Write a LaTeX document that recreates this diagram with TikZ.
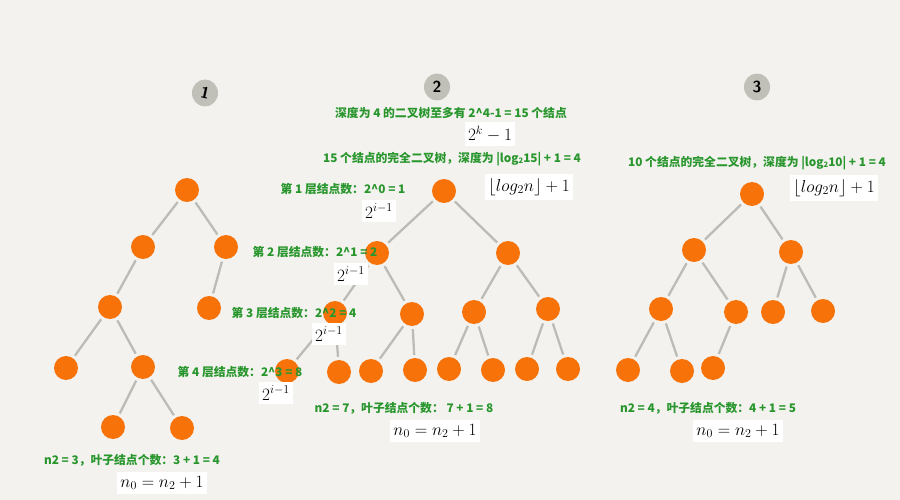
\documentclass[tikz,border=0pt]{standalone}
\usepackage{fontspec}
\usetikzlibrary{shapes.geometric}
\newfontfamily\cjk{Noto Sans CJK SC}
\definecolor{bg}{RGB}{243,242,238}
\definecolor{orng}{RGB}{247,115,10}
\definecolor{edgegray}{RGB}{188,188,182}
\definecolor{grn}{RGB}{40,150,45}
\definecolor{badgegray}{RGB}{192,191,184}
\newcommand{\sbtwo}{\raisebox{-0.8pt}{\fontsize{7.5}{7.5}\selectfont 2}}
\begin{document}
\begin{tikzpicture}[x=1pt,y=-1pt,
  tn/.style={circle, fill=orng, minimum size=24pt, inner sep=0pt},
  ed/.style={draw=edgegray, line width=2.3pt, shorten <=3pt, shorten >=3pt},
  lab/.style={text=grn, font=\cjk\bfseries\fontsize{11.8}{13}\selectfont, inner sep=0pt},
  mbox/.style={fill=white, inner xsep=3pt, inner ysep=4pt, font=\fontsize{18.5}{20}\selectfont},
  badge/.style={ellipse, fill=badgegray, minimum width=26pt, minimum height=27pt, inner sep=0pt, font=\sffamily\bfseries\fontsize{16}{16}\selectfont}]
\fill[bg] (0,0) rectangle (900,500);
\useasboundingbox (0,0) rectangle (900,500);

% badges
\node[badge] (bd1) at (205,93) {\rotatebox{-12}{1}};
\node[badge] (bd2) at (437,87) {2};
\node[badge] (bd3) at (757,87) {3};

% tree 1
\node[tn] (a0) at (187,190) {};
\node[tn] (a1) at (143,247) {};
\node[tn] (a2) at (226,247) {};
\node[tn] (a3) at (110,307) {};
\node[tn] (a4) at (209,308) {};
\node[tn] (a5) at (66,368) {};
\node[tn] (a6) at (143,367) {};
\node[tn] (a7) at (113,427) {};
\node[tn] (a8) at (182,428) {};
\foreach \p/\c in {a0/a1,a0/a2,a1/a3,a2/a4,a3/a5,a3/a6,a6/a7,a6/a8}
  \draw[ed] (\p) -- (\c);

% tree 2
\node[tn] (b1) at (444,191) {};
\node[tn] (b2) at (377,253) {};
\node[tn] (b3) at (508,253) {};
\node[tn] (b4) at (335,313) {};
\node[tn] (b5) at (412,314) {};
\node[tn] (b6) at (474,312) {};
\node[tn] (b7) at (548,309) {};
\node[tn] (b8) at (287,371) {};
\node[tn] (b9) at (339,372) {};
\node[tn] (b10) at (371,371) {};
\node[tn] (b11) at (415,370) {};
\node[tn] (b12) at (449,369) {};
\node[tn] (b13) at (493,370) {};
\node[tn] (b14) at (527,369) {};
\node[tn] (b15) at (568,369) {};
\foreach \p/\c in {b1/b2,b1/b3,b2/b4,b2/b5,b3/b6,b3/b7,b4/b8,b4/b9,b5/b10,b5/b11,b6/b12,b6/b13,b7/b14,b7/b15}
  \draw[ed] (\p) -- (\c);

% tree 3
\node[tn] (c1) at (752,194) {};
\node[tn] (c2) at (694,250) {};
\node[tn] (c3) at (791,252) {};
\node[tn] (c4) at (661,309) {};
\node[tn] (c5) at (736,312) {};
\node[tn] (c6) at (773,312) {};
\node[tn] (c7) at (823,311) {};
\node[tn] (c8) at (628,370) {};
\node[tn] (c9) at (682,371) {};
\node[tn] (c10) at (713,368) {};
\foreach \p/\c in {c1/c2,c1/c3,c2/c4,c2/c5,c3/c6,c3/c7,c4/c8,c4/c9,c5/c10}
  \draw[ed] (\p) -- (\c);

% green labels
\node[lab] (t1) at (451,113) {深度为 4 的二叉树至多有 2\^{}4-1 = 15 个结点};
\node[lab] (t2) at (452,159) {15 个结点的完全二叉树，深度为 |log\sbtwo15| + 1 = 4};
\node[lab] (t3) at (757,163) {10 个结点的完全二叉树，深度为 |log\sbtwo10| + 1 = 4};
\node[lab] (l1) at (343,189) {第 1 层结点数：2\^{}0 = 1};
\node[lab] (l2) at (315,252) {第 2 层结点数：2\^{}1 = 2};
\node[lab] (l3) at (294,313) {第 3 层结点数：2\^{}2 = 4};
\node[lab] (l4) at (240,372) {第 4 层结点数：2\^{}3 = 8};
\node[lab] (f1) at (132,460) {n2 = 3，叶子结点个数：3 + 1 = 4};
\node[lab] (f2) at (404,408) {n2 = 7，叶子结点个数： 7 + 1 = 8};
\node[lab] (f3) at (708,408) {n2 = 4，叶子结点个数：4 + 1 = 5};

% math boxes
\node[mbox] (m1) at (490,134) {$2^k-1$};
\node[mbox] (m2) at (529,187) {$\lfloor log_2n\rfloor+1$};
\node[mbox] (m3) at (834,188) {$\lfloor log_2n\rfloor+1$};
\node[mbox] (p1) at (379,211) {$2^{i-1}$};
\node[mbox] (p2) at (351,274) {$2^{i-1}$};
\node[mbox] (p3) at (329,334) {$2^{i-1}$};
\node[mbox] (p4) at (276,393) {$2^{i-1}$};
\node[mbox] (n1) at (162,483) {$n_0=n_2+1$};
\node[mbox] (n2) at (435,431) {$n_0=n_2+1$};
\node[mbox] (n3) at (738,431) {$n_0=n_2+1$};
\end{tikzpicture}
\end{document}
